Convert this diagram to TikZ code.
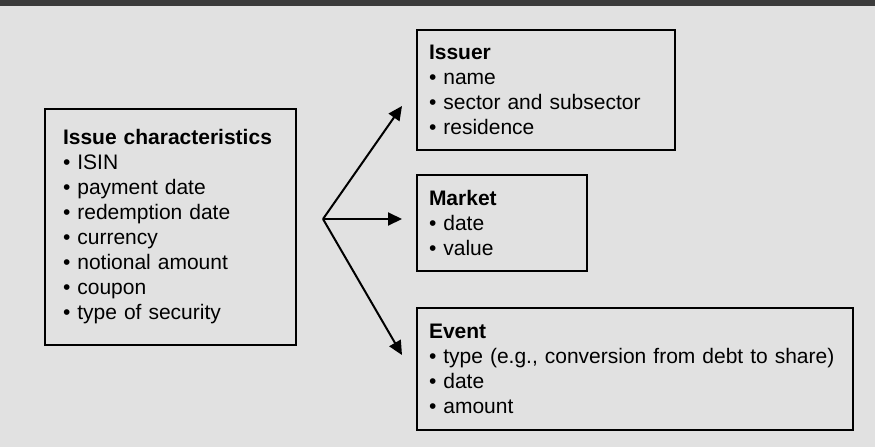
\documentclass[tikz,border=0pt]{standalone}
\usepackage{fontspec}
\setmainfont{Liberation Sans}
\usetikzlibrary{positioning,calc,arrows.meta}
\definecolor{panelgray}{HTML}{E1E1E1}
\definecolor{bandgray}{HTML}{3B3B3B}

\tikzset{
  infobox/.style={draw=black, line width=2pt, anchor=north west, align=left,
    inner ysep=0pt, font=\fontsize{21}{25}\selectfont},
  flow/.style={-{Triangle[length=14pt,width=13pt]}, line width=2pt},
}

\begin{document}
\begin{tikzpicture}[x=1pt, y=-1pt]
    % background and top band
    \fill[panelgray] (0,0) rectangle (875,447);
    \fill[bandgray] (0,0) rectangle (875,6);

    \node[infobox, inner xsep=18pt, text width=215pt, minimum height=236pt] (issue) at (44,108)
      {\textbf{Issue characteristics}\\ • ISIN\\ • payment date\\ • redemption date\\
       • currency\\ • notional amount\\ • coupon\\ • type of security};
    \node[infobox, inner xsep=12pt, text width=234pt, minimum height=120pt] (issuer) at (416,29)
      {\textbf{Issuer}\\ • name\\ • sector and subsector\\ • residence};
    \node[infobox, inner xsep=12pt, text width=146pt, minimum height=96pt] (market) at (416,174)
      {\textbf{Market}\\ • date\\ • value};
    \node[infobox, inner xsep=12pt, text width=412pt, minimum height=122pt] (event) at (416,307)
      {\textbf{Event}\\ • type (e.g., conversion from debt to share)\\ • date\\ • amount};

    % fork point and arrow tips
    \coordinate (fork) at ($(issue.east)+(26,-8)$);
    \coordinate (toissuer) at ($(issuer.south west)+(-14,-45)$);
    \coordinate (tomarket) at ($(market.west)+(-14,-4)$);
    \coordinate (toevent) at ($(event.north west)+(-14,48)$);

    % Connect the nodes
    \draw[flow] (fork) -- (toissuer);
    \draw[flow] (fork) -- (tomarket);
    \draw[flow] (fork) -- (toevent);
\end{tikzpicture}
\end{document}
